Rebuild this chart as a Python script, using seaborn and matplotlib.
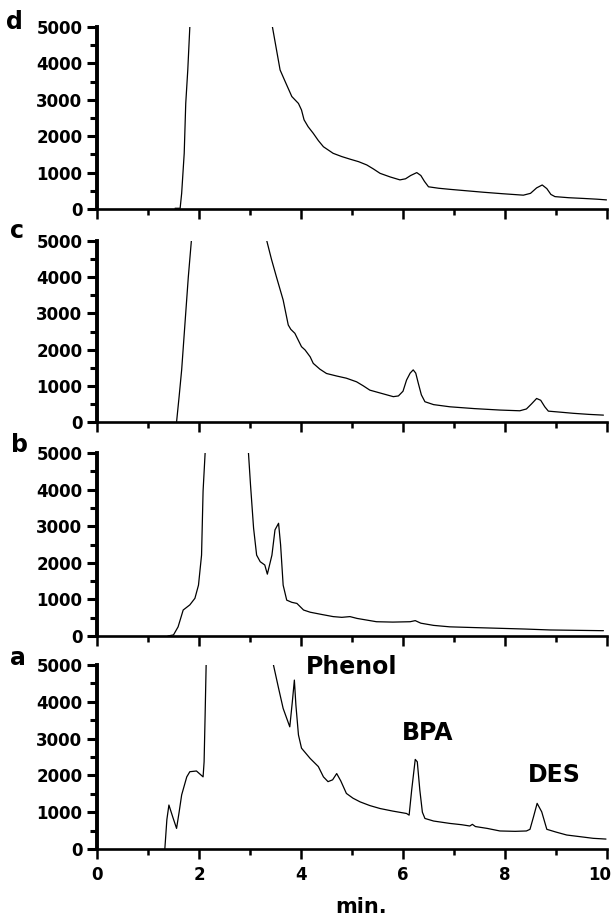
import matplotlib
matplotlib.use("Agg")
import matplotlib.pyplot as plt
import numpy as np
import pandas as pd
import seaborn as sns
from matplotlib.ticker import MultipleLocator
from matplotlib.transforms import ScaledTranslation

# ---------------- data ----------------
# panel d
d_left_t = [1.53, 1.63, 1.66, 1.71, 1.74, 1.78, 1.82]
d_left_y = [20, 20, 430, 1530, 2900, 3820, 5000]
d_right_t = [3.44, 3.52, 3.59, 3.69, 3.82, 3.95, 4.01, 4.06, 4.14, 4.24, 4.34, 4.44,
             4.63, 4.80, 4.96, 5.13, 5.29, 5.42, 5.55, 5.75, 5.94, 6.05, 6.15, 6.27,
             6.35, 6.42, 6.50, 6.70, 6.92, 7.25, 7.58, 7.95, 8.36, 8.50, 8.62, 8.73,
             8.82, 8.90, 8.98, 9.25, 9.54, 9.80, 9.99]
d_right_y = [5000, 4370, 3820, 3500, 3090, 2900, 2720, 2450, 2260, 2080, 1880, 1710,
             1530, 1440, 1370, 1300, 1210, 1100, 980, 880, 800, 830, 920, 1000,
             920, 760, 610, 570, 540, 500, 460, 420, 380, 430, 580, 660,
             560, 400, 340, 310, 290, 270, 250]

# panel c
c_left_t = [1.56, 1.61, 1.66, 1.73, 1.79, 1.85]
c_left_y = [0, 700, 1440, 2820, 4000, 5000]
c_right_t = [3.33, 3.42, 3.52, 3.65, 3.75, 3.80, 3.88, 3.95, 4.01, 4.08, 4.18, 4.24,
             4.37, 4.50, 4.70, 4.89, 5.09, 5.22, 5.35, 5.58, 5.81, 5.91, 6.00, 6.07,
             6.14, 6.20, 6.25, 6.30, 6.36, 6.43, 6.60, 6.92, 7.40, 7.90, 8.29, 8.42,
             8.52, 8.62, 8.70, 8.78, 8.85, 9.10, 9.34, 9.65, 9.93]
c_right_y = [5000, 4500, 4000, 3370, 2680, 2560, 2450, 2250, 2080, 1990, 1800, 1620,
             1460, 1340, 1270, 1210, 1110, 1000, 880, 790, 700, 720, 850, 1160,
             1350, 1440, 1350, 1070, 750, 560, 480, 420, 370, 330, 310, 360,
             500, 650, 600, 420, 300, 270, 240, 210, 190]

# panel b
b_left_t = [1.39, 1.50, 1.59, 1.69, 1.82, 1.92, 1.99, 2.05, 2.08, 2.12]
b_left_y = [0, 30, 250, 710, 850, 1030, 1390, 2210, 3960, 5000]
b_right_t = [2.97, 3.01, 3.07, 3.13, 3.20, 3.29, 3.34, 3.43, 3.49, 3.56, 3.60, 3.65,
             3.72, 3.82, 3.92, 4.05, 4.18, 4.40, 4.63, 4.80, 4.96, 5.10, 5.48, 5.80,
             6.14, 6.24, 6.35, 6.60, 6.92, 7.40, 7.90, 8.40, 8.88, 9.40, 9.93]
b_right_y = [5000, 4130, 2950, 2210, 2030, 1940, 1690, 2210, 2900, 3080, 2490, 1390,
             980, 920, 890, 710, 650, 590, 530, 510, 530, 480, 390, 380,
             390, 420, 350, 290, 250, 230, 210, 190, 165, 155, 145]

# panel a
a_left_t = [1.33, 1.37, 1.41, 1.49, 1.56, 1.61, 1.66, 1.76, 1.82, 1.95, 2.08, 2.10,
            2.12, 2.14]
a_left_y = [0, 800, 1195, 850, 560, 1000, 1470, 1960, 2100, 2120, 1960, 2370,
            3640, 5000]
a_right_t = [3.46, 3.56, 3.65, 3.78, 3.83, 3.87, 3.90, 3.95, 4.01, 4.18, 4.34, 4.44,
             4.53, 4.62, 4.70, 4.78, 4.89, 5.02, 5.16, 5.35, 5.55, 5.80, 6.07, 6.12,
             6.17, 6.24, 6.28, 6.33, 6.38, 6.43, 6.60, 6.92, 7.15, 7.31, 7.36, 7.42,
             7.65, 7.90, 8.20, 8.42, 8.49, 8.56, 8.63, 8.72, 8.82, 9.00, 9.21, 9.50,
             9.73, 9.98]
a_right_y = [5000, 4370, 3820, 3320, 4000, 4590, 3910, 3100, 2740, 2460, 2240, 1960,
             1830, 1880, 2050, 1850, 1510, 1380, 1280, 1180, 1100, 1030, 965, 920,
             1600, 2435, 2370, 1600, 1000, 830, 760, 695, 660, 625, 670, 610,
             560, 490, 480, 490, 535, 880, 1240, 1010, 535, 460, 380, 330,
             290, 270]

panel_names = ["d", "c", "b", "a"]
peak_labels = ["Phenol", "BPA", "DES"]
peak_label_t = [4.99, 6.48, 8.97]
peak_label_y = [4750, 2960, 1830]
y_ticks = [0, 1000, 2000, 3000, 4000, 5000]
x_ticks = [0, 2, 4, 6, 8, 10]
x_label = "min."

series = {
    "d": (d_left_t, d_left_y, d_right_t, d_right_y),
    "c": (c_left_t, c_left_y, c_right_t, c_right_y),
    "b": (b_left_t, b_left_y, b_right_t, b_right_y),
    "a": (a_left_t, a_left_y, a_right_t, a_right_y),
}

# ---------------- style ----------------
sns.set_theme(style="white")
plt.rcParams["font.family"] = ["DejaVu Sans"]
plt.rcParams["font.weight"] = "bold"

fig = plt.figure(figsize=(6.13, 9.17), dpi=100)
W, H = 613.0, 917.0
x0_px, x1_px = 97.0, 607.0
panel_px = {"d": (27, 209), "c": (241, 422), "b": (453, 636), "a": (665, 849)}
letter_pos = {"d": (-0.161, 0.989), "c": (-0.157, 1.017), "b": (-0.151, 1.005), "a": (-0.155, 1.0)}

bottom_ax = None
for name in panel_names:
    top, bot = panel_px[name]
    rect = [x0_px / W, 1 - bot / H, (x1_px - x0_px) / W, (bot - top) / H]
    ax = fig.add_axes(rect)
    lt, ly, rt, ry = series[name]
    df = pd.DataFrame({
        "t": list(lt) + list(rt),
        "signal": list(ly) + list(ry),
        "seg": [0] * len(lt) + [1] * len(rt),
    })
    sns.lineplot(data=df, x="t", y="signal", units="seg", estimator=None,
                 color="black", linewidth=0.9, ax=ax, legend=False, sort=False)
    ax.set_xlim(0, 10)
    ax.set_ylim(0, 5000)
    ax.set_xlabel("")
    ax.set_ylabel("")
    ax.set_facecolor("white")
    for s in ("top", "right"):
        ax.spines[s].set_visible(False)
    ax.spines["left"].set_linewidth(2.8)
    ax.spines["bottom"].set_linewidth(1.9)
    ax.spines["left"].set_color("black")
    ax.spines["bottom"].set_color("black")

    ax.set_yticks(y_ticks)
    ax.yaxis.set_minor_locator(MultipleLocator(500))
    ax.set_xticks(x_ticks)
    ax.xaxis.set_minor_locator(MultipleLocator(1))
    ax.tick_params(axis="y", which="major", direction="out", length=7.5, width=2.2,
                   color="black", labelsize=12, pad=3, left=True)
    ax.tick_params(axis="y", which="minor", direction="out", length=5, width=2.2,
                   color="black", left=True)
    ax.tick_params(axis="x", which="major", direction="out", length=7, width=1.8,
                   color="black", labelsize=12, pad=5, bottom=True)
    ax.tick_params(axis="x", which="minor", direction="out", length=4, width=1.8,
                   color="black", bottom=True)
    for lab in ax.get_yticklabels() + ax.get_xticklabels():
        lab.set_fontweight("bold")
        lab.set_color("black")
    if name != "a":
        ax.tick_params(axis="x", labelbottom=False)
    else:
        bottom_ax = ax
        ax.set_xlabel(x_label, fontsize=15, fontweight="bold", color="black")
        ax.xaxis.set_label_coords((361 - x0_px) / (x1_px - x0_px), (849 - 897) / 184.0)
        ax.xaxis.label.set_va("top")
        for lbl, tx, ty in zip(peak_labels, peak_label_t, peak_label_y):
            ax.text(tx, ty, lbl, ha="center", va="baseline", fontsize=17,
                    fontweight="bold", color="black")
    lx, ly_ = letter_pos[name]
    ax.text(lx, ly_, name, transform=ax.transAxes, ha="center", va="baseline",
            fontsize=17, fontweight="bold", color="black")

# keep the last x tick label ("10") inside the canvas
fig.canvas.draw()
last = bottom_ax.get_xticklabels()[-1]
last.set_transform(last.get_transform() + ScaledTranslation(-0.075, 0, fig.dpi_scale_trans))

fig.savefig("out.png", dpi=100, facecolor="white")
